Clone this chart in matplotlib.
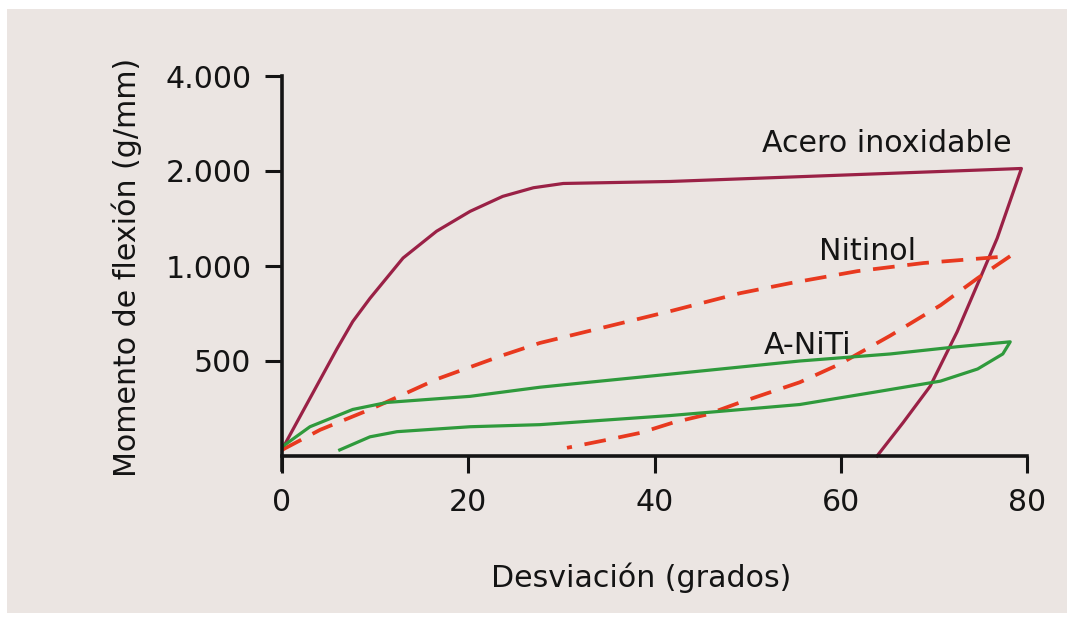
import numpy as np
import matplotlib
matplotlib.use("Agg")
import matplotlib.pyplot as plt
from matplotlib.patches import Rectangle

# Acero inoxidable: carga y descarga (grados, g/mm)
acero_x = [0.0, 0.1, 5.9, 7.6, 9.45, 13.0, 16.6, 20.2, 23.7, 27.0, 30.2, 41.7, 79.4,
           76.8, 75.3, 72.5, 69.6, 66.7, 63.9]
acero_y = [30, 43, 564, 708, 830, 1060, 1289, 1490, 1662, 1770, 1826, 1853, 2037,
           1225, 974, 654, 367, 176, 0]

# Nitinol (linea discontinua)
nitinol_x = [0.0, 4.1, 9.45, 12.35, 16.6, 23.7, 27.7, 34.9, 42.0, 49.2, 54.6, 61.8,
             68.9, 74.2, 78.2,
             74.7, 70.7, 65.3, 59.9, 55.6, 52.7, 49.2, 45.6, 42.0, 38.5, 34.9, 30.6]
nitinol_y = [32, 138, 245, 309, 404, 530, 595, 681, 766, 857, 910, 973,
             1022, 1052, 1075,
             936, 793, 633, 484, 388, 340, 282, 218, 176, 122, 85, 43]

# A-NiTi
aniti_x = [0.0, 3.0, 7.6, 11.3, 20.2, 27.7, 30.9, 41.7, 55.6, 65.3, 72.5, 78.2,
           77.4, 74.7, 70.7, 63.5, 55.6, 45.6, 41.7, 27.7, 20.2, 12.35, 9.45, 6.2]
aniti_y = [48, 154, 245, 282, 314, 362, 378, 431, 500, 537, 575, 601,
           537, 458, 394, 335, 271, 229, 213, 165, 154, 128, 101, 32]

x_ticks = [0, 20, 40, 60, 80]
y_ticks = [500, 1000, 2000, 4000]
y_ticklabels = ["500", "1.000", "2.000", "4.000"]


# eje Y: lineal hasta 1.000, luego cada duplicacion ocupa el mismo espacio
def fwd(v):
    v = np.asarray(v, dtype=float)
    return np.where(v <= 1000, v / 500.0, 2 + np.log2(np.maximum(v, 1e-9) / 1000.0))


def inv(t):
    t = np.asarray(t, dtype=float)
    return np.where(t <= 2, t * 500.0, 1000.0 * 2 ** (np.minimum(t, 50) - 2))


W, H = 1067, 625
fig = plt.figure(figsize=(W / 100, H / 100), dpi=100, facecolor="white")
fig.add_artist(Rectangle((7 / W, 1 - 613 / H), 1, (613 - 9) / H,
                         transform=fig.transFigure, facecolor="#ebe5e2",
                         edgecolor="none", zorder=0))

ax = fig.add_axes([282 / W, 1 - 470 / H, (1027 - 282) / W, (470 - 76) / H])
ax.set_facecolor("none")
ax.set_yscale("function", functions=(fwd, inv))
ax.set_xlim(0, 80)
ax.set_ylim(-14 / 95 * 500, 4000)

ink = "#141414"
ax.plot(acero_x, acero_y, color="#9a2146", lw=2.3, solid_joinstyle="round")
ax.plot(nitinol_x, nitinol_y, color="#e8391f", lw=2.7, linestyle=(0, (5.8, 3.4)))
ax.plot(aniti_x, aniti_y, color="#2f9a3c", lw=2.3, solid_joinstyle="round")

fs = 21.6
ax.text(65.0, 2300, "Acero inoxidable", fontsize=fs, color=ink, ha="center", va="baseline")
ax.text(62.9, 1044, "Nitinol", fontsize=fs, color=ink, ha="center", va="baseline")
ax.text(56.4, 537, "A-NiTi", fontsize=fs, color=ink, ha="center", va="baseline")

for s in ["top", "right"]:
    ax.spines[s].set_visible(False)
ax.spines["bottom"].set_position(("data", 0))
ax.spines["left"].set_linewidth(2.6)
ax.spines["bottom"].set_linewidth(2.6)
ax.spines["left"].set_color(ink)
ax.spines["bottom"].set_color(ink)

ax.set_xticks(x_ticks)
ax.set_xticklabels([str(t) for t in x_ticks])
ax.set_yticks(y_ticks)
ax.set_yticklabels(y_ticklabels)
ax.yaxis.set_minor_locator(matplotlib.ticker.NullLocator())
ax.tick_params(axis="x", direction="out", length=12, width=2.2, pad=11,
               labelsize=fs, colors=ink)
ax.tick_params(axis="y", direction="out", length=12, width=2.2, pad=10,
               labelsize=fs, colors=ink)

ax.set_xlabel("Desviación (grados)", fontsize=fs, color=ink, va="baseline")
ax.xaxis.set_label_coords(641 / W, 1 - 587 / H, transform=fig.transFigure)
ax.set_ylabel("Momento de flexión (g/mm)", fontsize=fs, color=ink, va="center")
ax.yaxis.set_label_coords(127 / W, 1 - 267 / H, transform=fig.transFigure)

fig.savefig("out.png", dpi=100, facecolor="white")
